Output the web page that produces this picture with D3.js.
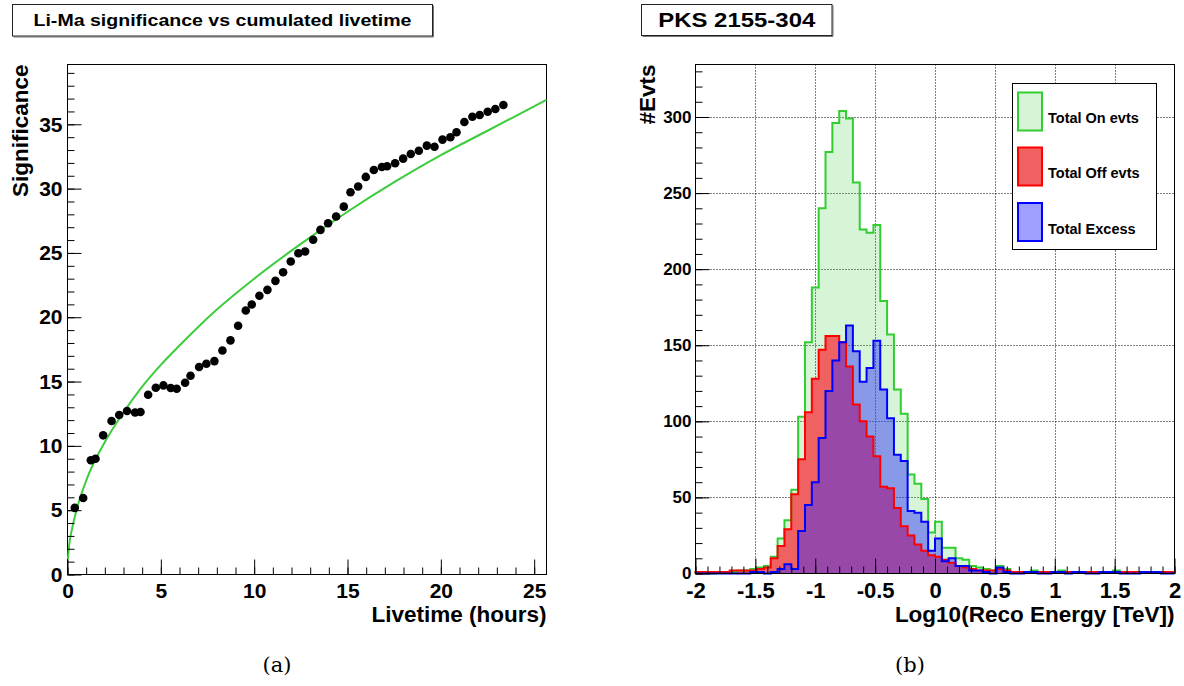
<!DOCTYPE html>
<html>
<head>
<meta charset="utf-8">
<script src="https://cdn.jsdelivr.net/npm/d3@7"></script>
<style>
body { margin: 0; background: #fff; }
svg text { font-family: "Liberation Sans", Arial, sans-serif; font-weight: bold; fill: #000; }
</style>
</head>
<body>
<script>
// ---- left panel data: Li-Ma significance vs cumulated livetime
var livetime = [0.39, 0.84, 1.25, 1.5, 1.91, 2.36, 2.77, 3.19, 3.62, 3.91, 4.32, 4.73, 5.14, 5.53, 5.85,
  6.3, 6.59, 7.05, 7.44, 7.87, 8.3, 8.73, 9.14, 9.55, 9.87, 10.28, 10.71, 11.14, 11.55, 11.96, 12.37,
  12.73, 13.16, 13.55, 13.96, 14.39, 14.8, 15.16, 15.57, 15.98, 16.41, 16.84, 17.12, 17.55, 17.98,
  18.39, 18.82, 19.25, 19.66, 20.09, 20.51, 20.84, 21.26, 21.69, 22.08, 22.51, 22.92, 23.35];
var significance = [5.18, 5.95, 8.88, 9.0, 10.82, 11.93, 12.4, 12.71, 12.6, 12.63, 13.98, 14.52, 14.7, 14.5, 14.44,
  14.91, 15.45, 16.13, 16.39, 16.59, 17.42, 18.2, 19.34, 20.53, 20.99, 21.67, 22.13, 22.83, 23.5, 24.33, 24.98,
  25.11, 26.02, 26.79, 27.31, 27.83, 28.6, 29.72, 30.16, 30.91, 31.45, 31.68, 31.74, 31.97, 32.33,
  32.69, 32.95, 33.34, 33.26, 33.81, 33.99, 34.38, 35.18, 35.59, 35.72, 35.98, 36.19, 36.5];
// green fit curve
var fitTime = [0.02, 0.1, 0.25, 0.5, 1, 2, 3, 4, 5, 6, 8, 10, 12.5, 15, 17.5, 20, 22.5, 25.66];
var fitSig  = [1.2, 2.4, 3.6, 5.1, 7.3, 10.3, 12.6, 14.6, 16.3, 17.8, 20.6, 23.0, 25.7, 28.2, 30.5, 32.6, 34.5, 36.9];
var liveTicks = [0, 5, 10, 15, 20, 25];
var sigTicks = [0, 5, 10, 15, 20, 25, 30, 35];

// ---- right panel data: 70 bins from -2 to 2 in log10(E/TeV)
var energyRange = [-2, 2];
var onEvts = [1, 1, 0, 1, 1, 1, 2, 2, 3, 4, 5, 11, 23, 35, 55, 103, 152, 188, 240, 277, 296, 304, 299, 257,
  226, 224, 229, 179, 157, 121, 105, 65, 59, 49, 27, 34, 17, 17, 10, 9, 5, 4, 3, 2, 5, 3, 1,
  1, 1, 2, 1, 1, 1, 2, 1, 1, 1, 1, 1, 1, 1, 2, 1, 1, 1, 1, 1, 1, 1, 1];
var offEvts = [1, 1, 1, 1, 1, 2, 2, 2, 2, 3, 4, 10, 18, 29, 52, 75, 106, 128, 147, 156, 156, 152, 136, 111,
  100, 90, 77, 57, 56, 43, 31, 25, 19, 15, 12, 11, 9, 7, 5, 4, 3, 2, 2, 2, 3, 2, 1,
  1, 1, 1, 1, 1, 1, 1, 1, 1, 1, 1, 1, 1, 1, 1, 1, 1, 1, 1, 1, 1, 1, 1];
var excessEvts = [0, 0, 0, 0, 0, 0, 0, 0, 1, 1, 0, 1, 3, 6, 3, 28, 45, 60, 89, 120, 140, 152, 163, 146,
  126, 135, 153, 121, 102, 78, 74, 41, 40, 34, 15, 23, 8, 10, 5, 5, 2, 2, 1, 0, 4, 1, 0,
  0, 1, 1, 0, 0, 1, 1, 0, 1, 1, 0, 0, 1, 1, 1, 0, 0, 0, 1, 1, 1, 0, 0];
var energyTicks = [-2, -1.5, -1, -0.5, 0, 0.5, 1, 1.5, 2];
var evtTicks = [0, 50, 100, 150, 200, 250, 300];
var legendNames = ["Total On evts", "Total Off evts", "Total Excess"];

var svg = d3.select("body").append("svg").attr("width", 1184).attr("height", 686);

function titleBox(x, y, w, h, txt, size, len) {
  svg.append("path").attr("d", "M" + (x + w + 1) + "," + (y + 1) + "V" + (y + h + 1) + "H" + (x + 1))
    .attr("fill", "none").attr("stroke", "#777");
  svg.append("rect").attr("x", x).attr("y", y).attr("width", w).attr("height", h)
    .attr("fill", "#fff").attr("stroke", "#222");
  svg.append("text").attr("x", x + w / 2).attr("y", y + h / 2 + size * 0.36)
    .attr("text-anchor", "middle").style("font-size", size + "px")
    .attr("textLength", len).attr("lengthAdjust", "spacingAndGlyphs").text(txt);
}

function styleAxis(g, size) {
  g.select(".domain").remove();
  g.selectAll("line").attr("stroke", "#000");
  g.selectAll("text").style("font-size", size + "px");
}

// ================= left panel =================
var xL = d3.scaleLinear().domain([0, 25.66]).range([67.5, 546.5]);
var yL = d3.scaleLinear().domain([0, 39.65]).range([574.5, 64.5]);

titleBox(12.5, 4.5, 420, 31.5, "Li-Ma significance vs cumulated livetime", 17, 378);

svg.append("rect").attr("x", 67.5).attr("y", 64.5).attr("width", 479).attr("height", 510)
  .attr("fill", "none").attr("stroke", "#000");

svg.append("path")
  .datum(d3.zip(fitTime, fitSig))
  .attr("d", d3.line().x(function(d) { return xL(d[0]); }).y(function(d) { return yL(d[1]); })
    .curve(d3.curveMonotoneX))
  .attr("fill", "none").attr("stroke", "#3ccc3c").attr("stroke-width", 2);

svg.selectAll("circle.pt")
  .data(d3.zip(livetime, significance))
  .enter().append("circle").attr("class", "pt")
  .attr("cx", function(d) { return xL(d[0]); })
  .attr("cy", function(d) { return yL(d[1]); })
  .attr("r", 4.3).attr("fill", "#000");

svg.append("g").attr("transform", "translate(0,574.5)")
  .call(d3.axisBottom(xL).tickValues(d3.range(0, 25.5, 1)).tickSize(-7).tickFormat(""))
  .call(styleAxis, 21);
svg.append("g").attr("transform", "translate(0,574.5)")
  .call(d3.axisBottom(xL).tickValues(liveTicks).tickSize(-15).tickPadding(9).tickFormat(function(d) { return d; }))
  .call(styleAxis, 21);
svg.append("g").attr("transform", "translate(67.5,0)")
  .call(d3.axisLeft(yL).tickValues(d3.range(0, 39.5, 1)).tickSize(-7).tickFormat(""))
  .call(styleAxis, 21);
svg.append("g").attr("transform", "translate(67.5,0)")
  .call(d3.axisLeft(yL).tickValues(sigTicks).tickSize(-14).tickPadding(5).tickFormat(function(d) { return d; }))
  .call(styleAxis, 21);

svg.append("text").attr("x", 546.5).attr("y", 622).attr("text-anchor", "end")
  .style("font-size", "22.5px").text("Livetime (hours)");
svg.append("text").attr("transform", "translate(27.5,64.5) rotate(-90)").attr("text-anchor", "end")
  .style("font-size", "22.5px").text("Significance");

svg.append("text").attr("x", 277).attr("y", 672).attr("text-anchor", "middle")
  .style("font-family", "'DejaVu Serif', serif").style("font-weight", "normal")
  .style("font-size", "21px").text("(a)");

// ================= right panel =================
var xR = d3.scaleLinear().domain(energyRange).range([695.5, 1174.5]);
var yR = d3.scaleLinear().domain([0, 334.5]).range([573.5, 64.5]);

titleBox(641.5, 4.5, 190.5, 31, "PKS 2155-304", 20, 157);

// grid
svg.append("g").selectAll("line").data(energyTicks.slice(1, -1)).enter().append("line")
  .attr("x1", function(d) { return Math.round(xR(d)) + 0.5; })
  .attr("x2", function(d) { return Math.round(xR(d)) + 0.5; })
  .attr("y1", 64.5).attr("y2", 573.5)
  .attr("stroke", "#000").attr("stroke-dasharray", "1,2");
svg.append("g").selectAll("line").data(evtTicks.slice(1)).enter().append("line")
  .attr("y1", function(d) { return Math.round(yR(d)) + 0.5; })
  .attr("y2", function(d) { return Math.round(yR(d)) + 0.5; })
  .attr("x1", 695.5).attr("x2", 1174.5)
  .attr("stroke", "#000").attr("stroke-dasharray", "1,2");

function stepPath(vals) {
  var n = vals.length, lo = energyRange[0], w = (energyRange[1] - energyRange[0]) / n;
  var p = d3.path();
  p.moveTo(xR(lo), yR(0));
  vals.forEach(function(v, i) {
    p.lineTo(xR(lo + i * w), yR(v));
    p.lineTo(xR(lo + (i + 1) * w), yR(v));
  });
  p.lineTo(xR(energyRange[1]), yR(0));
  return p.toString();
}

var hists = [
  { vals: onEvts, fill: "#33cc33", op: 0.2, color: "#33cc33" },
  { vals: offEvts, fill: "#f06262", op: 1, color: "#ff0000" },
  { vals: excessEvts, fill: "#2a2aff", op: 0.45, color: "#0000ff" }
];
// fills first, then outlines on top
hists.forEach(function(h) {
  svg.append("path").attr("d", stepPath(h.vals)).attr("fill", h.fill).attr("fill-opacity", h.op)
    .attr("stroke", "none");
});
hists.forEach(function(h) {
  svg.append("path").attr("d", stepPath(h.vals)).attr("fill", "none")
    .attr("stroke", h.color).attr("stroke-width", 2);
});

svg.append("rect").attr("x", 695.5).attr("y", 64.5).attr("width", 479).attr("height", 509)
  .attr("fill", "none").attr("stroke", "#000");

svg.append("g").attr("transform", "translate(0,573.5)")
  .call(d3.axisBottom(xR).tickValues(d3.range(-20, 20.5, 1).map(function(d) { return d / 10; })).tickSize(-7).tickFormat(""))
  .call(styleAxis, 22);
svg.append("g").attr("transform", "translate(0,573.5)")
  .call(d3.axisBottom(xR).tickValues(energyTicks).tickSize(-15).tickPadding(9).tickFormat(function(d) { return String(d); }))
  .call(styleAxis, 22);
svg.append("g").attr("transform", "translate(695.5,0)")
  .call(d3.axisLeft(yR).tickValues(d3.range(0, 335, 10)).tickSize(-7).tickFormat(""))
  .call(styleAxis, 17);
svg.append("g").attr("transform", "translate(695.5,0)")
  .call(d3.axisLeft(yR).tickValues(evtTicks).tickSize(-14).tickPadding(4).tickFormat(function(d) { return d; }))
  .call(styleAxis, 17);

svg.append("text").attr("x", 1174.5).attr("y", 622).attr("text-anchor", "end")
  .style("font-size", "22.5px").text("Log10(Reco Energy [TeV])");
svg.append("text").attr("transform", "translate(655,64.5) rotate(-90)").attr("text-anchor", "end")
  .style("font-size", "22.5px").text("#Evts");

// legend
svg.append("rect").attr("x", 1012.5).attr("y", 83.5).attr("width", 144).attr("height", 166)
  .attr("fill", "#fff").attr("stroke", "#000");
var legY = [92.5, 147.5, 203];
hists.forEach(function(h, i) {
  svg.append("rect").attr("x", 1018).attr("y", legY[i]).attr("width", 24).attr("height", 38)
    .attr("fill", h.fill).attr("fill-opacity", h.op).attr("stroke", h.color).attr("stroke-width", 2);
  svg.append("text").attr("x", 1048).attr("y", legY[i] + 30.5)
    .style("font-size", "14.5px").text(legendNames[i]);
});

svg.append("text").attr("x", 910).attr("y", 672).attr("text-anchor", "middle")
  .style("font-family", "'DejaVu Serif', serif").style("font-weight", "normal")
  .style("font-size", "21px").text("(b)");
</script>
</body>
</html>
